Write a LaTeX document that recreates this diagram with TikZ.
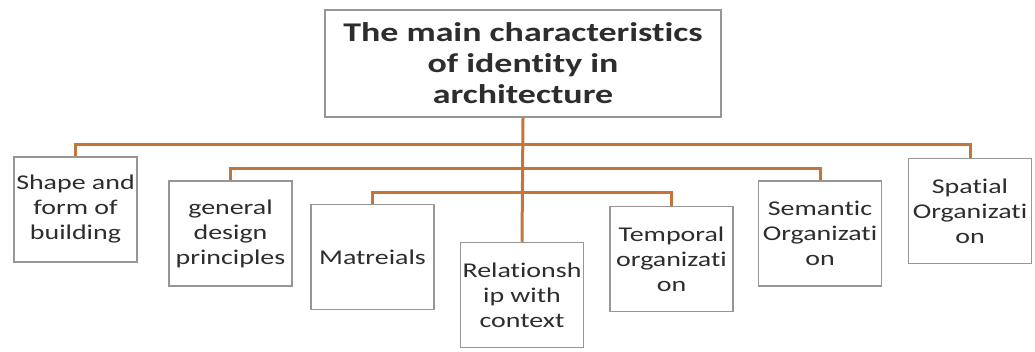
\documentclass[tikz,border=0pt]{standalone}
\usepackage{fontspec}
\usepackage{tikz}
\newfontfamily\boxfont[FakeStretch=1.33,RawFeature={-liga;-clig;-calt;-dlig}]{Carlito}
\definecolor{branch}{RGB}{196,118,58}
\definecolor{boxline}{RGB}{150,150,150}
\definecolor{ink}{RGB}{45,45,45}

\begin{document}
\begin{tikzpicture}[x=1pt,y=-1pt,
  item/.style={draw=boxline,line width=1.5pt,fill=white,align=center,inner sep=0pt,
    minimum width=123pt,minimum height=105pt,text=ink,
    font=\boxfont\fontsize{21}{25}\selectfont},
  head/.style={item,minimum width=396pt,minimum height=107pt,
    font=\boxfont\bfseries\fontsize{27}{31}\selectfont},
  link/.style={draw=branch,line width=3pt}]
\useasboundingbox (0,0) rectangle (1035,352);
\node[head] (top) at (523,63.5) {The main characteristics\\of identity in\\architecture};
\node[item] (shape) at (75.5,209.5) {Shape and\\form of\\building};
\node[item] (design) at (230.5,233.5) {general\\design\\principles};
\node[item] (mat) at (372.5,257) {Matreials};
\node[item] (rel) at (522,295) {Relationsh\\ip with\\context};
\node[item] (temp) at (671.5,259) {Temporal\\organizati\\on};
\node[item] (sem) at (820,233.5) {Semantic\\Organizati\\on};
\node[item] (spat) at (970,211) {Spatial\\Organizati\\on};
\coordinate (j1) at (522,145);
\coordinate (j2) at (522,169);
\coordinate (j3) at (522,193);
\draw[link] (top.south) -- (rel.north);
\draw[link] (j1) -| (shape.north) (j1) -| (spat.north);
\draw[link] (j2) -| (design.north) (j2) -| (sem.north);
\draw[link] (j3) -| (mat.north) (j3) -| (temp.north);
\end{tikzpicture}
\end{document}
